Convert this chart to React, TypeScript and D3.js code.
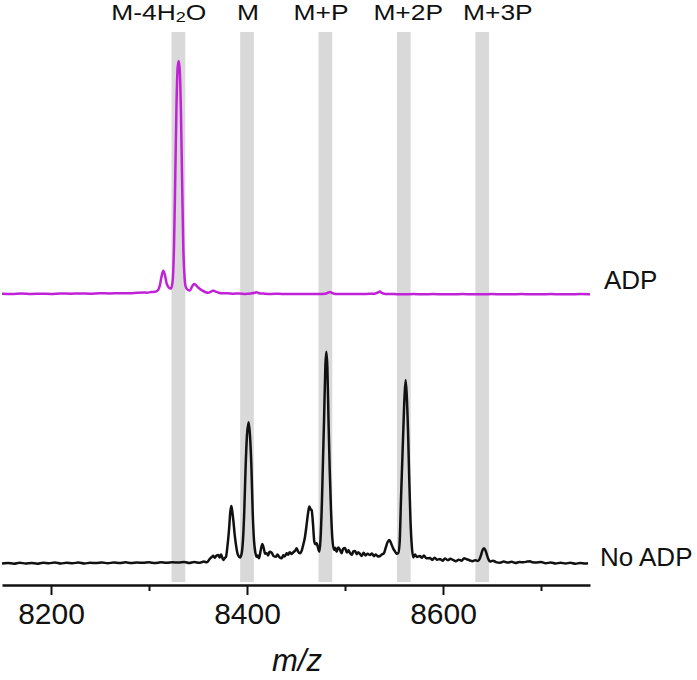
import * as React from "react";
import * as d3 from "d3";

// peak markers (m/z) and their labels
const bandCenters = [8330, 8400, 8480, 8560, 8640];
const bandLabels = ["M-4H2O", "M", "M+P", "M+2P", "M+3P"];
const labelCenters = [8310, 8401, 8475.5, 8564.5, 8656];

// x axis ticks
const majorTicks = [8200, 8400, 8600];
const minorTicks = [8300, 8500, 8700];

// spectrum with ADP: [m/z, relative intensity]
const adpSpectrum = [
  [8150, 0.1], [8160, 0.0], [8170, 0.2], [8180, 0.0], [8190, 0.1], [8200, 0.0], [8210, 0.2],
  [8220, 0.1], [8230, 0.2], [8240, 0.1], [8250, 0.3], [8260, 0.2], [8270, 0.3], [8280, 0.3],
  [8288, 0.5], [8294, 0.6], [8298, 0.5], [8302, 0.8], [8306, 0.9], [8309, 1.5], [8311, 3.5],
  [8312.8, 7.5], [8314.6, 9.9], [8316.3, 8], [8318, 4.5], [8320, 2.8], [8322.4, 2.3], [8324, 5],
  [8325.5, 20], [8326.8, 50], [8328, 80], [8329.2, 97], [8330.3, 100], [8331.4, 96], [8332.6, 78],
  [8333.8, 48], [8335, 20], [8336.3, 7], [8337.5, 3], [8339.5, 1.8], [8341.8, 1.5], [8343.5, 2.8],
  [8345, 3.9], [8346.2, 4.2], [8347.5, 3.9], [8349.5, 3.0], [8352, 2.1], [8355, 1.3], [8358, 0.7],
  [8360.2, 0.5], [8363, 0.9], [8365, 1.3], [8366.3, 1.3], [8368, 1.0], [8371, 0.5], [8374.2, 0.3],
  [8380, 0.3], [8386, 0.1], [8392, 0.2], [8398, 0.0], [8404, 0.2], [8408, 0.5], [8409.9, 0.7],
  [8412, 0.3], [8418, 0.1], [8425, 0.0], [8432, 0.1], [8440, -0.1], [8448, 0.0], [8456, -0.1],
  [8464, 0.0], [8472, -0.1], [8480, 0.1], [8483, 0.6], [8484.7, 0.8], [8486.5, 0.4], [8490, 0.0],
  [8498, -0.1], [8506, 0.0], [8514, -0.1], [8522, 0.0], [8530, 0.1], [8533.5, 0.6], [8535.7, 1.0],
  [8537.5, 0.4], [8541, 0.0], [8550, -0.1], [8560, -0.2], [8570, -0.1], [8580, -0.2], [8590, -0.1],
  [8600, -0.2], [8610, -0.2], [8620, -0.1], [8630, -0.2], [8640, -0.2], [8650, -0.1], [8660, -0.2],
  [8670, -0.2], [8680, -0.1], [8690, -0.2], [8700, -0.2], [8710, -0.1], [8720, -0.2], [8730, -0.2],
  [8740, -0.1], [8750, -0.2],
];

// spectrum without ADP
const noAdpSpectrum = [
  [8150, -0.2], [8156, 0.0], [8162, -0.3], [8168, 0.1], [8174, -0.2], [8180, 0.0], [8186, -0.3],
  [8192, 0.1], [8198, -0.1], [8204, 0.2], [8210, -0.2], [8216, 0.1], [8222, -0.1], [8228, 0.2],
  [8234, -0.2], [8240, 0.1], [8246, 0.0], [8252, 0.2], [8258, -0.1], [8264, 0.2], [8270, 0.0],
  [8276, 0.3], [8282, 0.0], [8288, 0.2], [8294, 0.1], [8300, 0.3], [8306, 0.0], [8312, 0.3],
  [8318, 0.1], [8324, 0.3], [8330, 0.2], [8336, 0.4], [8341, 0.0], [8346, 0.4], [8352, 0.1],
  [8356, 0.6], [8359, 0.3], [8362, 1.8], [8364, 2.6], [8365.6, 3.1], [8367, 2.2], [8368.5, 3.0],
  [8370.7, 3.4], [8372, 2.4], [8373.5, 3.6], [8375.8, 1.3], [8377, 2.0], [8378.6, 2.7], [8380, 7],
  [8381.6, 14], [8383, 22], [8384, 24.5], [8385, 22], [8386, 18.5], [8387.5, 12], [8388.8, 7.7],
  [8390.5, 3.8], [8392.9, 2.4], [8394.5, 4], [8395.9, 9.9], [8397.2, 22], [8398.5, 40], [8400, 55],
  [8401.7, 60.4], [8403, 55], [8404.6, 40], [8405.8, 22], [8407.1, 10], [8408.5, 4.5], [8409.9, 2.7],
  [8411, 3.2], [8412.2, 2.0], [8413.8, 5.0], [8415.6, 8.2], [8417, 6.5], [8418.5, 4.0], [8420.1, 4.2],
  [8421.5, 3.2], [8423, 4.8], [8425.2, 4.4], [8427, 3.0], [8429.6, 2.7], [8431, 3.6], [8433, 2.5],
  [8435.4, 2.0], [8437, 3.3], [8438.5, 2.8], [8440.5, 4.2], [8442, 3.5], [8443.5, 4.6], [8445.6, 3.9],
  [8447, 4.5], [8449, 5.2], [8450.7, 6.3], [8452, 5.0], [8454.1, 4.2], [8456, 5.5], [8457.5, 8],
  [8459.2, 11.3], [8461, 17], [8462.5, 22], [8463.6, 24.2], [8465, 23], [8466, 22.7], [8467.3, 17],
  [8468.7, 9.1], [8470, 8], [8471.1, 8.5], [8472.5, 6.5], [8473.8, 4.8], [8475, 10], [8476.5, 27],
  [8477.6, 45], [8478.6, 61], [8480, 85], [8480.9, 90.7], [8482, 84], [8483.2, 61], [8484.4, 40],
  [8485.7, 23], [8487, 11], [8488.8, 5.6], [8490, 6.5], [8491.5, 4.8], [8493, 6.6], [8494.9, 5.6],
  [8496.5, 4.2], [8498, 6.0], [8500, 6.4], [8502, 4.5], [8503.5, 5.5], [8505.1, 4.3], [8507, 3.5],
  [8508.5, 5.0], [8510.2, 5.2], [8512, 3.8], [8513.5, 4.6], [8515.3, 3.9], [8517, 3.0], [8519, 4.4],
  [8521, 3.2], [8523, 4.0], [8525.5, 3.4], [8527.5, 4.1], [8529.5, 2.9], [8531.5, 3.7], [8533.5, 2.8],
  [8535.7, 3.0], [8537.5, 3.6], [8539.8, 4.3], [8541.5, 6.5], [8543.5, 9.0], [8545.2, 9.9], [8547, 8.5],
  [8549, 6.4], [8551, 5.0], [8552.5, 4.0], [8554.4, 4.2], [8555.8, 9], [8557.1, 27], [8558.3, 42],
  [8559.5, 57], [8560.8, 72], [8561.9, 78.5], [8563, 72], [8564.3, 57], [8565.5, 37], [8566.8, 18.5],
  [8568.2, 7], [8569.7, 2.4], [8571.5, 3.6], [8573.5, 2.6], [8576.5, 3.0], [8578.5, 2.2], [8580.5, 3.2],
  [8583, 2.0], [8586.7, 2.1], [8589, 1.3], [8591.5, 2.3], [8594, 1.4], [8596.9, 1.7], [8599.5, 1.0],
  [8602, 1.9], [8605, 1.2], [8607.5, 1.8], [8610.2, 1.3], [8613, 0.8], [8616, 1.4], [8619, 1.0],
  [8621.5, 2.0], [8624.2, 1.6], [8627, 1.2], [8630, 0.8], [8633, 1.2], [8635.7, 0.9], [8637.5, 1.8],
  [8638.8, 3.4], [8640.3, 5.5], [8641.8, 6.3], [8643.3, 5.5], [8644.9, 3.4], [8646.5, 1.5], [8648, 0.6],
  [8651, 1.0], [8654, 0.4], [8658.2, 0.1], [8662, 0.6], [8666, 0.2], [8670, 0.5], [8674, 0.0],
  [8678, 0.4], [8682, 0.3], [8686, 0.6], [8688.8, 0.8], [8691, 0.3], [8695, 0.2], [8700, 0.4],
  [8705, -0.1], [8710, 0.2], [8715, -0.2], [8720, 0.1], [8725, -0.2], [8730, 0.1], [8735, -0.3],
  [8740, 0.0], [8745, -0.2], [8748, -0.1],
];

const seriesNames = ["ADP", "No ADP"];
const seriesOffsets = [115.5, 0]; // vertical stacking, in intensity units
const seriesColors = ["#c022d6", "#111111"];

const FONT = "'Liberation Sans', Arial, sans-serif";

function drawChart(svgRef) {
  const width = 697;
  const height = 680;
  const axisY = 585;

  const x = d3.scaleLinear().domain([8150, 8750]).range([2, 590]);
  const y = d3.scaleLinear().domain([0, 100]).range([563, 330]);

  const svg = d3.select(svgRef.current).attr("width", width).attr("height", height);
  svg.selectAll("*").remove();

  // grey marker bands
  svg
    .selectAll(".band")
    .data(bandCenters)
    .enter()
    .append("rect")
    .attr("x", (d) => x(d - 7))
    .attr("width", (d) => x(d + 7) - x(d - 7))
    .attr("y", 32)
    .attr("height", 582 - 32)
    .attr("fill", "#d9d9d9");

  // band labels (the original lettering is a bit stretched sideways)
  const labels = svg
    .selectAll(".blabel")
    .data(bandLabels)
    .enter()
    .append("text")
    .attr("transform", (d, i) => `translate(${x(labelCenters[i])}, 20) scale(1.2, 1)`)
    .attr("text-anchor", "middle")
    .attr("font-family", FONT)
    .attr("font-size", 22)
    .attr("fill", "#111");

  labels.each(function (d) {
    const t = d3.select(this);
    if (d === "M-4H2O") {
      t.append("tspan").text("M-4H");
      t.append("tspan").attr("font-size", 15).attr("dy", 2).text("2");
      t.append("tspan").attr("dy", -2).text("O");
    } else {
      t.text(d);
    }
  });

  // spectra
  const spectra = [adpSpectrum, noAdpSpectrum];
  spectra.forEach((data, i) => {
    const line = d3
      .line()
      .x((d) => x(d[0]))
      .y((d) => y(d[1] + seriesOffsets[i]))
      .curve(d3.curveMonotoneX);
    svg
      .append("path")
      .datum(data)
      .attr("d", line)
      .attr("fill", "none")
      .attr("stroke", seriesColors[i])
      .attr("stroke-width", 2.5)
      .attr("stroke-linejoin", "round");
  });

  // series labels
  svg.append("text").attr("x", 604).attr("y", 289).attr("font-family", FONT)
    .attr("font-size", 26).attr("fill", "#111").text(seriesNames[0]);
  svg.append("text").attr("x", 600).attr("y", 566).attr("font-family", FONT)
    .attr("font-size", 26).attr("fill", "#111").text(seriesNames[1]);

  // x axis
  const minor = svg.append("g").attr("transform", `translate(0, ${axisY})`)
    .call(d3.axisBottom(x).tickValues(minorTicks).tickSize(6).tickSizeOuter(0).tickFormat(() => ""));
  minor.select(".domain").remove();
  minor.selectAll("line").attr("stroke", "#111").attr("stroke-width", 2);

  const major = svg.append("g").attr("transform", `translate(0, ${axisY})`)
    .call(d3.axisBottom(x).tickValues(majorTicks).tickSize(10).tickSizeOuter(0).tickFormat(d3.format("d")));
  major.select(".domain").attr("stroke", "#111").attr("stroke-width", 2.6);
  major.selectAll("line").attr("stroke", "#111").attr("stroke-width", 2);
  major.selectAll("text")
    .attr("font-family", FONT)
    .attr("font-size", 30)
    .attr("fill", "#111")
    .attr("dy", null)
    .attr("y", 39);

  // axis title
  svg.append("text")
    .attr("x", 297)
    .attr("y", 671)
    .attr("text-anchor", "middle")
    .attr("font-family", FONT)
    .attr("font-style", "italic")
    .attr("font-size", 31)
    .attr("fill", "#111")
    .text("m/z");
}

const App = () => {
  const svgRef = React.useRef(null);

  React.useEffect(() => {
    drawChart(svgRef);
  }, [svgRef]);

  return (
    <div style={{ position: "absolute", left: 0, top: 0, width: 697, height: 680, background: "#fff" }}>
      <svg ref={svgRef} style={{ display: "block" }} />
    </div>
  );
};

export default App;
